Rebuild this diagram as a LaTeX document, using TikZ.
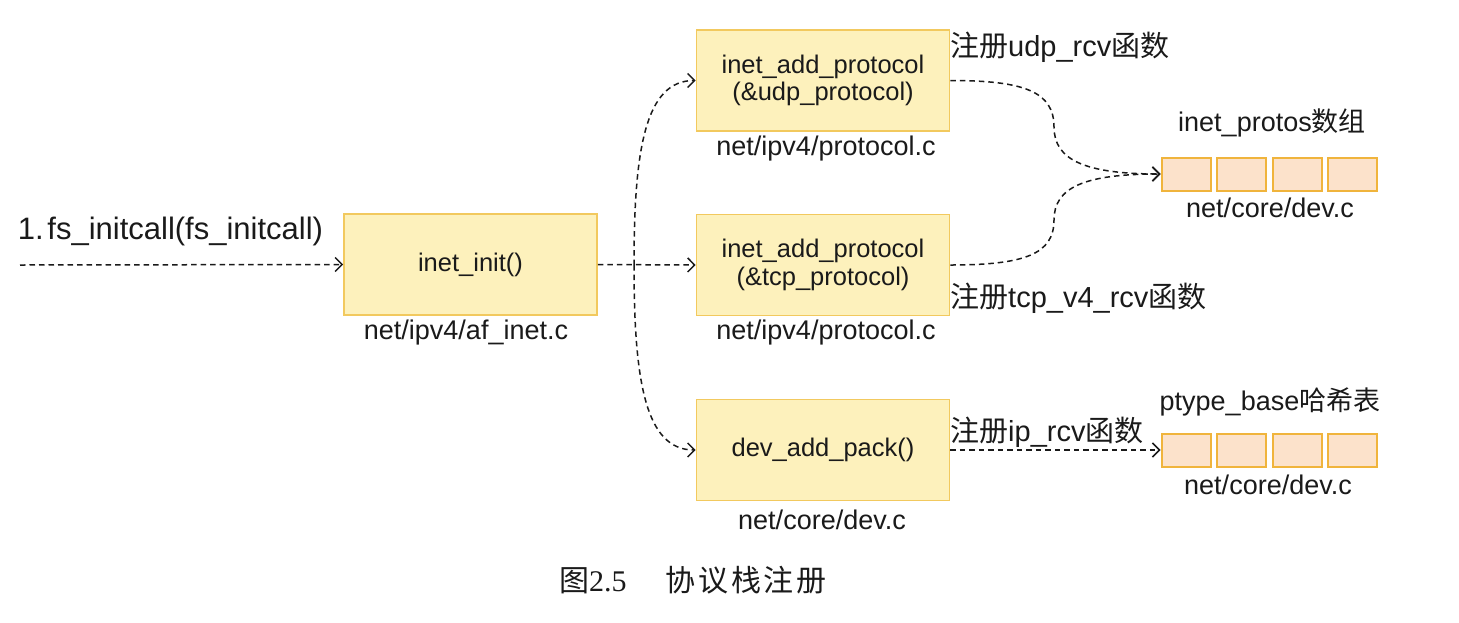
\documentclass[tikz,border=0pt]{standalone}
\usepackage{fontspec}
\setmainfont{Liberation Sans}
\newfontfamily\cjk{Noto Sans CJK SC}
\newfontfamily\cjkcap{Noto Sans CJK SC}[LetterSpace=9]
\newfontfamily\serifnum{Liberation Serif}
\usetikzlibrary{arrows.meta}
\definecolor{boxfill}{HTML}{FDF1BC}
\definecolor{boxborder}{HTML}{F2C95E}
\definecolor{cellfill}{HTML}{FCE2CB}
\definecolor{cellborder}{HTML}{F0B43C}
\definecolor{ink}{HTML}{1A1A1A}
\tikzset{
  box/.style={draw=boxborder, fill=boxfill, line width=1.6pt, minimum width=253pt, minimum height=101pt, inner sep=0pt, align=center, text=ink, font=\fontsize{25.5}{27.5}\selectfont},
  cell/.style={draw=cellborder, fill=cellfill, line width=2pt, minimum width=49pt, minimum height=33pt, inner sep=0pt},
  lbl/.style={inner sep=0pt, text=ink, font=\fontsize{27}{30}\selectfont},
  reg/.style={inner sep=0pt, text=ink, anchor=west, font=\fontsize{29}{30}\selectfont},
  flow/.style={draw=ink, dash pattern=on 5.5pt off 4pt, line width=1.5pt, -{Straight Barb[length=7pt,width=14pt,line width=1.5pt]}},
}
\begin{document}
\begin{tikzpicture}[x=1pt,y=-1pt]
\useasboundingbox (0,0) rectangle (1459,622);
\fill[white] (0,0) rectangle (1459,622);
% boxes
\node[box] (inet) at (470.5,264.5) {inet\_init()};
\node[box] (udp) at (823,80.5) {inet\_add\_protocol\\(\&udp\_protocol)};
\node[box] (tcp) at (823,265) {inet\_add\_protocol\\(\&tcp\_protocol)};
\node[box] (dev) at (823,450) {dev\_add\_pack()};
% arrays
\node[cell] (a1) at (1186,174) {};
\node[cell] (a2) at (1241.5,174) {};
\node[cell] (a3) at (1297,174) {};
\node[cell] (a4) at (1352.5,174) {};
\node[cell] (p1) at (1186,450) {};
\node[cell] (p2) at (1241.5,450) {};
\node[cell] (p3) at (1297,450) {};
\node[cell] (p4) at (1352.5,450) {};
% labels
\node[lbl, font=\fontsize{31}{31}\selectfont] (title) at (170.5,231.5) {1.\hspace{0.12em}fs\_initcall(fs\_initcall)};
\node[lbl] (linet) at (466,333) {net/ipv4/af\_inet.c};
\node[lbl] (ludp) at (826,149) {net/ipv4/protocol.c};
\node[lbl] (ltcp) at (826,333) {net/ipv4/protocol.c};
\node[lbl] (ldev) at (822,520) {net/core/dev.c};
\node[lbl] (lprotos) at (1272,123) {inet\_protos{\cjk 数组}};
\node[lbl] (ldev1) at (1270,208) {net/core/dev.c};
\node[lbl] (lptype) at (1270,402) {ptype\_base{\cjk 哈希表}};
\node[lbl] (ldev2) at (1268,485) {net/core/dev.c};
\node[reg] (rudp) at (950,47) {{\cjk 注册}udp\_rcv{\cjk 函数}};
\node[reg] (rtcp) at (950,298) {{\cjk 注册}tcp\_v4\_rcv{\cjk 函数}};
\node[reg] (rip) at (950,432) {{\cjk 注册}ip\_rcv{\cjk 函数}};
\node[inner sep=0pt, text=ink, font=\fontsize{30}{30}\selectfont, anchor=west] (cap) at (559,580) {{\cjk 图}{\serifnum 2.5}\hspace{1.3em}{\cjkcap 协议栈注册}};
% connectors
\coordinate (start) at (20,265);
\coordinate (split) at (634,265);
\draw[flow] (start) -- (inet.west);
\draw[flow] (inet.east) -- (tcp.west);
\draw[flow] (split) .. controls (634,150) and (645,80.5) .. (udp.west);
\draw[flow] (split) .. controls (634,380) and (645,450) .. (dev.west);
\draw[flow] (udp.east) .. controls (1025,80.5) and (1054,92) .. (1054,127) .. controls (1054,160) and (1085,174) .. (a1.west);
\draw[flow] (tcp.east) .. controls (1025,265) and (1054,254) .. (1054,220) .. controls (1054,187) and (1085,174) .. (a1.west);
\draw[flow] (dev.east) -- (p1.west);
\end{tikzpicture}
\end{document}
